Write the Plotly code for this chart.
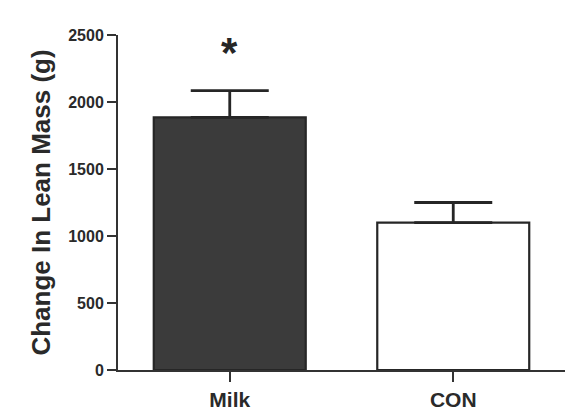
import plotly.graph_objects as go

categories = ["Milk", "CON"]
values = [1885, 1100]
errors = [200, 150]
fills = ["#3b3b3b", "#ffffff"]
y_ticks = [0, 500, 1000, 1500, 2000, 2500]
y_tick_labels = ["0", "500", "1000", "1500", "2000", "2500"]
star_label = "*"
star_y = 2370

FONT = "Liberation Sans, Arial, sans-serif"

fig = go.Figure()
fig.add_trace(go.Bar(
    x=categories, y=values, width=0.68,
    marker=dict(color=fills, line=dict(color="#262626", width=2.2)),
    error_y=dict(type="data", array=errors, arrayminus=[0, 0], symmetric=False,
                 color="#262626", thickness=2.8, width=39),
))
fig.add_annotation(x=categories[0], y=star_y, text=star_label, showarrow=False,
                   font=dict(family=FONT, size=42, color="#262626", weight="bold"),
                   yanchor="middle")

fig.update_layout(
    width=565, height=419,
    margin=dict(l=118, r=0, t=35, b=49),
    paper_bgcolor="white", plot_bgcolor="white",
    showlegend=False,
)
fig.update_xaxes(
    range=[-0.5, 1.5], showline=True, linecolor="#333", linewidth=2,
    ticks="outside", ticklen=10, tickwidth=2, tickcolor="#333",
    tickfont=dict(family=FONT, size=21, color="#2a2a2a", weight="bold"),
    showgrid=False, zeroline=False,
)
fig.update_yaxes(
    range=[0, 2500], tickvals=y_ticks, ticktext=y_tick_labels,
    showline=True, linecolor="#333", linewidth=2,
    ticks="outside", ticklen=9, tickwidth=1.5, tickcolor="#333",
    tickfont=dict(family=FONT, size=16, color="#2a2a2a", weight="bold"),
    showgrid=False, zeroline=False,
    title=dict(text="Change In Lean Mass (g)", standoff=10,
               font=dict(family=FONT, size=26, color="#2a2a2a", weight="bold")),
)
fig.write_html("out.html")
